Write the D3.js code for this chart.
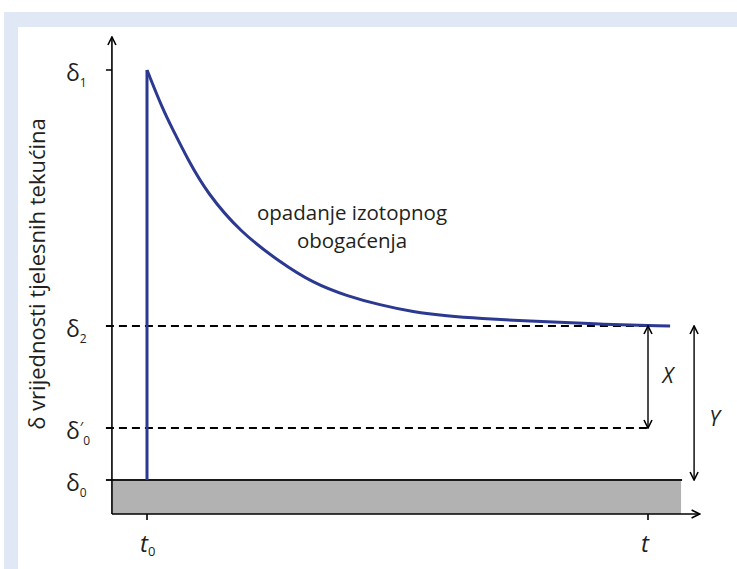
<!DOCTYPE html>
<html>
<head>
<meta charset="utf-8">
<script src="https://cdn.jsdelivr.net/npm/d3@7"></script>
<style>
  body { margin: 0; background: #fff; }
  text { font-family: "Open Sans", sans-serif; fill: #231f20; }
</style>
</head>
<body>
<script>
// levels (arbitrary units, delta0 = 0)
let levelNames = ["δ0", "δ'0", "δ2", "δ1"]
let levelValues = [0, 52, 154, 410]

// time ticks (arbitrary units)
let tickNames = ["t0", "t"]
let tickValues = [0, 10]

// decay curve
let curveT = [0, 0.32, 0.52, 0.82, 1.2, 1.86, 2.65, 3.31, 3.99, 4.65, 5.31, 5.99, 6.65, 7.58, 8.9, 10.44]
let curveV = [410, 370, 350, 320, 287, 248, 218, 197, 184, 175, 168, 164, 161.5, 159, 156, 154]

let width = 737
let height = 569

let svg = d3.select("body").append("svg")
    .attr("width", width)
    .attr("height", height)

// frame
svg.append("rect").attr("x", 4).attr("y", 12).attr("width", width - 4).attr("height", height - 12).attr("fill", "#e1e8f5")
svg.append("rect").attr("x", 18).attr("y", 27).attr("width", width - 18).attr("height", height - 27).attr("fill", "#fff")

let x = d3.scaleLinear().domain([0, 10]).range([147, 648])
let y = d3.scaleLinear().domain([0, 410]).range([480, 70])

let xLeft = x(-0.7)
let xEnd = x(11.03)
let yTop = y(443)
let yBottom = y(-34)

// grey base
svg.append("rect")
    .attr("x", xLeft).attr("y", y(0))
    .attr("width", x(10.66) - xLeft).attr("height", yBottom - y(0))
    .attr("fill", "#b2b2b2")

let defs = svg.append("defs")
defs.append("marker").attr("id", "arr")
    .attr("viewBox", "0 0 10 10").attr("refX", 9).attr("refY", 5)
    .attr("markerWidth", 10).attr("markerHeight", 10)
    .attr("markerUnits", "userSpaceOnUse")
    .attr("orient", "auto-start-reverse")
    .append("path").attr("d", "M1,1 L9,5 L1,9").attr("fill", "none").attr("stroke", "#000").attr("stroke-width", 1.6)

// dashed levels
svg.append("line").attr("x1", xLeft - 6).attr("x2", x(10.44)).attr("y1", y(levelValues[2])).attr("y2", y(levelValues[2]))
    .attr("stroke", "#000").attr("stroke-width", 2).attr("stroke-dasharray", "8,5")
svg.append("line").attr("x1", xLeft - 6).attr("x2", x(10)).attr("y1", y(levelValues[1])).attr("y2", y(levelValues[1]))
    .attr("stroke", "#000").attr("stroke-width", 2).attr("stroke-dasharray", "8,5")
// delta0 solid
svg.append("line").attr("x1", xLeft - 6).attr("x2", x(10.68)).attr("y1", y(0)).attr("y2", y(0))
    .attr("stroke", "#1a1a1a").attr("stroke-width", 2)
// delta1 tick
svg.append("line").attr("x1", xLeft - 6).attr("x2", xLeft).attr("y1", y(levelValues[3])).attr("y2", y(levelValues[3]))
    .attr("stroke", "#000").attr("stroke-width", 1.5)

// axes
svg.append("line").attr("x1", xLeft).attr("x2", xLeft).attr("y1", yBottom).attr("y2", yTop)
    .attr("stroke", "#000").attr("stroke-width", 1.6).attr("marker-end", "url(#arr)")
svg.append("line").attr("x1", xLeft).attr("x2", xEnd).attr("y1", yBottom).attr("y2", yBottom)
    .attr("stroke", "#000").attr("stroke-width", 1.6).attr("marker-end", "url(#arr)")
svg.selectAll(".xt").data(tickValues).enter().append("line")
    .attr("x1", d => x(d)).attr("x2", d => x(d)).attr("y1", yBottom).attr("y2", yBottom + 6)
    .attr("stroke", "#000").attr("stroke-width", 1.6)

// blue line
let pts = curveT.map((t, i) => [t, curveV[i]])
svg.append("line").attr("x1", x(0)).attr("x2", x(0)).attr("y1", y(0)).attr("y2", y(410))
    .attr("stroke", "#2b3990").attr("stroke-width", 3)
svg.append("path")
    .datum(pts)
    .attr("d", d3.line().x(d => x(d[0])).y(d => y(d[1])).curve(d3.curveBasis))
    .attr("fill", "none").attr("stroke", "#2b3990").attr("stroke-width", 3)
    .attr("stroke-linejoin", "miter")

// X and Y arrows
svg.append("line").attr("x1", x(10)).attr("x2", x(10)).attr("y1", y(levelValues[2])).attr("y2", y(levelValues[1]))
    .attr("stroke", "#000").attr("stroke-width", 1.4)
    .attr("marker-start", "url(#arr)").attr("marker-end", "url(#arr)")
svg.append("line").attr("x1", x(10.92)).attr("x2", x(10.92)).attr("y1", y(levelValues[2])).attr("y2", y(0))
    .attr("stroke", "#000").attr("stroke-width", 1.4)
    .attr("marker-start", "url(#arr)").attr("marker-end", "url(#arr)")
svg.append("text").attr("x", x(10.4)).attr("y", y(97)).text("X")
    .attr("font-size", 21).attr("font-style", "italic").attr("text-anchor", "middle")
svg.append("text").attr("x", x(11.33)).attr("y", y(54)).text("Y")
    .attr("font-size", 21).attr("font-style", "italic").attr("text-anchor", "middle")

// level labels
let levelLabels = svg.selectAll(".lv").data(levelNames).enter().append("text")
    .attr("x", 66).attr("y", (d, i) => y(levelValues[i]) + 11)
    .attr("font-size", 23)
levelLabels.append("tspan").text("δ")
levelLabels.append("tspan").text(d => d.indexOf("'") >= 0 ? "′" : "")
    .attr("font-size", 15).attr("dy", -7)
levelLabels.append("tspan").text(d => d.slice(-1))
    .attr("font-size", 12).attr("dy", d => d.indexOf("'") >= 0 ? 13 : 6)

// time labels
let timeLabels = svg.selectAll(".tl").data(tickNames).enter().append("text")
    .attr("x", (d, i) => x(tickValues[i]) - 7).attr("y", 552)
    .attr("font-size", 24)
timeLabels.append("tspan").text("t").attr("font-style", "italic")
timeLabels.append("tspan").text(d => d.slice(1)).attr("font-size", 13).attr("dy", 4)

// annotation
svg.append("text").attr("text-anchor", "middle").attr("font-size", 20.5)
    .selectAll("tspan").data(["opadanje izotopnog", "obogaćenja"]).enter().append("tspan")
    .attr("x", 352).attr("y", (d, i) => 220 + i * 28).text(d => d)

// y title
svg.append("text")
    .attr("transform", "translate(45,274) rotate(-90)")
    .attr("text-anchor", "middle").attr("font-size", 22)
    .text("δ vrijednosti tjelesnih tekućina")
</script>
</body>
</html>
